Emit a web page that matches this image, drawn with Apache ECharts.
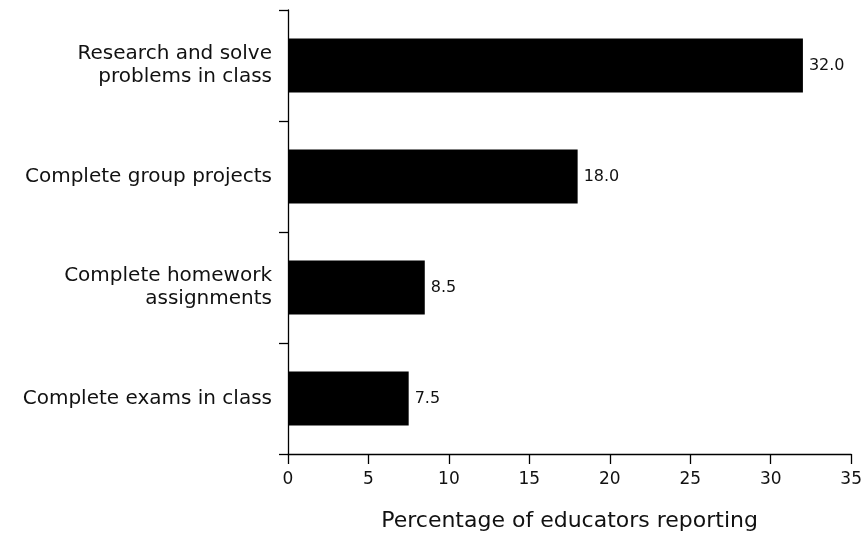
<!DOCTYPE html>
<html>
<head>
<meta charset="utf-8">
<script src="https://cdn.jsdelivr.net/npm/echarts@6/dist/echarts.min.js"></script>
<style>
  html, body { margin: 0; padding: 0; background: #fff; }
  #chart { width: 865px; height: 537px; }
</style>
</head>
<body>
<div id="chart"></div>
<script>
// top to bottom
const categories = [
  'Research and solve\nproblems in class',
  'Complete group projects',
  'Complete homework\nassignments',
  'Complete exams in class',
]
const values = [32.0, 18.0, 8.5, 7.5]
const xTicks = [0, 5, 10, 15, 20, 25, 30, 35]

const font = '"DejaVu Sans", "Noto Sans", sans-serif'
const chart = echarts.init(document.getElementById('chart'))

chart.setOption({
  animation: false,
  grid: { left: 288, right: 13, top: 10, bottom: 83, containLabel: false },
  xAxis: {
    type: 'value',
    min: xTicks[0],
    max: xTicks[xTicks.length - 1],
    interval: 5,
    name: 'Percentage of educators reporting',
    nameLocation: 'middle',
    nameGap: 56,
    nameTextStyle: { fontFamily: font, fontSize: 22, color: '#111' },
    axisLine: { show: true, lineStyle: { color: '#000', width: 1.3 } },
    axisTick: { show: true, length: 10, lineStyle: { color: '#000', width: 1.3 } },
    axisLabel: { fontFamily: font, fontSize: 17, color: '#111', margin: 17 },
    splitLine: { show: false },
  },
  yAxis: {
    type: 'category',
    inverse: true,
    data: categories,
    axisLine: { show: true, lineStyle: { color: '#000', width: 1.3 } },
    axisTick: { show: true, length: 9, lineStyle: { color: '#000', width: 1.3 } },
    axisLabel: {
      fontFamily: font,
      fontSize: 20,
      color: '#111',
      margin: 16,
      lineHeight: 23,
      align: 'right',
    },
  },
  series: [
    {
      type: 'bar',
      data: values,
      barWidth: 54,
      itemStyle: { color: '#000' },
      label: {
        show: true,
        position: 'right',
        distance: 6,
        fontFamily: font,
        fontSize: 16,
        color: '#111',
        formatter: (p) => p.value.toFixed(1),
      },
    },
  ],
})
</script>
</body>
</html>
